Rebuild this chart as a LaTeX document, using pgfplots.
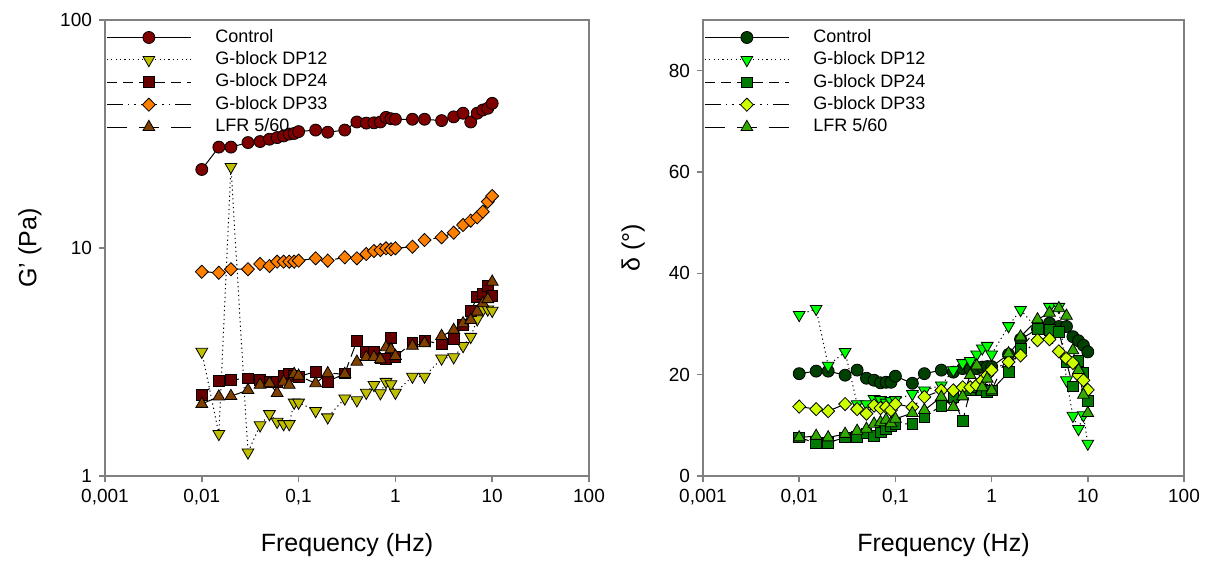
\documentclass[border=0pt]{standalone}
\usepackage{fontspec}
\setmainfont{Liberation Sans}
\usepackage{pgfplots}
\usepackage{pgfplotstable}
\pgfplotsset{compat=1.18}

\definecolor{lc}{HTML}{800000}
\definecolor{ld12}{HTML}{BFBF00}
\definecolor{ld24}{HTML}{660000}
\definecolor{ld33}{HTML}{FF8000}
\definecolor{llfr}{HTML}{804000}
\definecolor{rc}{HTML}{004000}
\definecolor{rd12}{HTML}{00FF00}
\definecolor{rd24}{HTML}{007A00}
\definecolor{rd33}{HTML}{CCFF00}
\definecolor{rlfr}{HTML}{33AA00}
\definecolor{axgray}{HTML}{808080}

% G' (Pa)
\pgfplotstableread{
f c d12 d24 d33 lfr
0.01 22.1 3.51 2.27 7.87 2.07
0.015 27.7 1.53 2.61 7.79 2.23
0.02 27.7 22.7 2.64 8.07 2.24
0.03 29.0 1.27 2.68 8.07 2.38
0.04 29.3 1.67 2.64 8.51 2.51
0.05 30.0 1.87 2.59 8.34 2.55
0.06 30.5 1.73 2.59 8.71 2.31
0.07 31.0 1.69 2.75 8.71 2.59
0.08 31.6 1.69 2.82 8.71 2.51
0.09 31.8 2.10 2.75 8.71 2.80
0.1 32.4 2.10 2.73 8.80 2.75
0.15 32.9 1.93 2.87 9.01 2.55
0.2 32.2 1.81 2.59 8.80 2.82
0.3 32.9 2.19 2.82 9.10 2.80
0.4 35.7 2.15 3.91 9.01 3.17
0.5 35.3 2.32 3.51 9.41 3.32
0.6 35.4 2.51 3.51 9.70 3.32
0.7 35.7 2.31 3.28 9.80 3.25
0.8 37.4 2.59 3.25 9.97 3.67
0.9 36.9 2.53 4.02 9.87 3.59
1 36.7 2.32 3.34 9.97 3.36
1.5 36.7 2.73 3.84 10.13 3.72
2 36.7 2.73 3.92 10.84 3.82
3 36.2 3.28 3.79 11.14 4.11
4 37.6 3.32 3.99 11.67 4.37
5 39.0 3.72 4.60 12.62 4.67
6 35.7 4.08 5.31 13.18 4.83
7 39.0 4.87 6.08 13.63 5.26
8 40.3 5.35 6.28 14.43 5.72
9 41.0 5.38 6.81 15.96 5.96
10 43.1 5.31 6.16 16.90 7.11
}\Gtab

% delta (deg)
\pgfplotstableread{
f c d12 d24 d33 lfr
0.01 20.2 31.8 7.6 13.7 7.6
0.015 20.7 33.0 6.5 13.2 7.9
0.02 20.7 21.8 6.6 12.8 7.6
0.03 19.9 24.5 7.6 14.2 8.3
0.04 20.9 14.2 7.7 13.2 8.9
0.05 19.3 14.2 8.4 12.3 9.3
0.06 18.9 15.2 7.9 13.9 10.3
0.07 18.4 15.0 8.6 13.4 10.6
0.08 18.5 14.5 9.3 13.6 11.1
0.09 18.5 14.8 9.9 13.0 10.4
0.1 19.7 15.0 10.3 14.2 11.3
0.15 18.3 16.2 10.3 13.6 12.4
0.2 20.2 16.9 11.6 15.6 13.0
0.3 20.9 17.9 13.9 16.9 15.6
0.4 20.5 20.9 15.5 16.9 13.6
0.5 21.2 22.3 10.8 17.5 15.7
0.6 21.0 22.7 16.9 17.5 19.9
0.7 21.2 24.0 17.5 17.9 21.8
0.8 21.5 25.2 17.0 18.9 17.5
0.9 21.6 25.7 16.5 19.9 19.2
1 21.6 24.0 16.9 20.9 16.9
1.5 24.0 29.6 20.5 22.5 24.2
2 27.0 32.8 25.2 23.8 27.5
3 29.0 29.0 29.1 26.8 30.9
4 30.2 33.4 28.9 27.0 32.2
5 29.5 33.4 28.5 24.6 33.1
6 29.5 18.9 22.5 23.2 31.6
7 27.5 11.9 17.7 22.3 24.8
8 26.7 9.3 22.7 19.9 20.9
9 25.8 12.0 20.3 18.9 16.0
10 24.5 6.4 14.9 17.0 12.4
}\Dtab

\pgfplotsset{
  legend image code/.code={\draw[mark repeat=2,mark phase=2,#1] plot coordinates {(0pt,0pt) (21pt,0pt) (42pt,0pt)};},
}

\begin{document}
\begin{tikzpicture}
\path[use as bounding box] (-52.5pt,-43pt) rectangle (551.5pt,238pt);

\begin{axis}[at={(0pt,0pt)}, anchor=south west, width=242pt,
    scale only axis, height=228pt,
    xmode=log, xmin=0.001, xmax=100,
    xtick={0.001,0.01,0.1,1,10,100},
    xticklabels={{0,001},{0,01},{0,1},1,10,100},
    axis line style={draw=axgray, line width=0.75pt},
    tick style={draw=axgray, line width=0.75pt},
    tick align=outside, major tick length=3pt, minor tick length=0pt,
    xtick pos=left, ytick pos=left,
    tick label style={font=\fontsize{9.5}{11}\selectfont},
    label style={font=\fontsize{12.5}{14}\selectfont},
    xlabel={Frequency (Hz)},
    xlabel style={at={(axis description cs:0.5,-0.151)}, anchor=center},
    legend style={at={(0.002,1)}, anchor=north west, draw=none, fill=none,
      font=\fontsize{9}{10}\selectfont, row sep=1.7pt, column sep=12pt,
      inner xsep=0pt, inner ysep=3.8pt,
      nodes={inner xsep=0pt, inner ysep=0.5pt, text height=6.6pt, text depth=1.9pt},
      cells={anchor=west}},
  ymode=log, ymin=1, ymax=100, ytick={1,10,100}, yticklabels={1,10,100},
  ylabel={G' (Pa)},
  ylabel style={at={(axis description cs:-0.155,0.5)}, anchor=center},
]
\addplot[solid, black, line width=0.5pt, mark=*, mark size=3pt, mark options={solid, draw=black, line width=0.4pt, fill=lc}] table[x=f,y=c] {\Gtab};
\addlegendentry{Control}
\addplot[black, line width=0.5pt, dash pattern=on 0.6pt off 1.6pt, mark=triangle*, mark size=3.4pt, mark options={solid, rotate=180, draw=black, line width=0.4pt, fill=ld12}] table[x=f,y=d12] {\Gtab};
\addlegendentry{G-block DP12}
\addplot[black, line width=0.5pt, dash pattern=on 5pt off 3pt, mark=square*, mark size=2.7pt, mark options={solid, draw=black, line width=0.4pt, fill=ld24}] table[x=f,y=d24] {\Gtab};
\addlegendentry{G-block DP24}
\addplot[black, line width=0.5pt, dash pattern=on 8pt off 2.5pt on 0.8pt off 2.5pt on 0.8pt off 2.5pt, mark=diamond*, mark size=3.3pt, mark options={solid, xscale=1.3, draw=black, line width=0.4pt, fill=ld33}] table[x=f,y=d33] {\Gtab};
\addlegendentry{G-block DP33}
\addplot[black, line width=0.5pt, dash pattern=on 10pt off 6pt, mark=triangle*, mark size=3.4pt, mark options={solid, draw=black, line width=0.4pt, fill=llfr}] table[x=f,y=lfr] {\Gtab};
\addlegendentry{LFR 5/60}
\end{axis}

\begin{axis}[at={(299pt,0pt)}, anchor=south west, width=240.5pt,
    scale only axis, height=228pt,
    xmode=log, xmin=0.001, xmax=100,
    xtick={0.001,0.01,0.1,1,10,100},
    xticklabels={{0,001},{0,01},{0,1},1,10,100},
    axis line style={draw=axgray, line width=0.75pt},
    tick style={draw=axgray, line width=0.75pt},
    tick align=outside, major tick length=3pt, minor tick length=0pt,
    xtick pos=left, ytick pos=left,
    tick label style={font=\fontsize{9.5}{11}\selectfont},
    label style={font=\fontsize{12.5}{14}\selectfont},
    xlabel={Frequency (Hz)},
    xlabel style={at={(axis description cs:0.5,-0.151)}, anchor=center},
    legend style={at={(0.002,1)}, anchor=north west, draw=none, fill=none,
      font=\fontsize{9}{10}\selectfont, row sep=1.7pt, column sep=12pt,
      inner xsep=0pt, inner ysep=3.8pt,
      nodes={inner xsep=0pt, inner ysep=0.5pt, text height=6.6pt, text depth=1.9pt},
      cells={anchor=west}},
  ymin=0, ymax=90, ytick={0,20,40,60,80}, yticklabels={0,20,40,60,80},
  ylabel={δ (°)},
  ylabel style={at={(axis description cs:-0.145,0.5)}, anchor=center},
]
\addplot[solid, black, line width=0.5pt, mark=*, mark size=3pt, mark options={solid, draw=black, line width=0.4pt, fill=rc}] table[x=f,y=c] {\Dtab};
\addlegendentry{Control}
\addplot[black, line width=0.5pt, dash pattern=on 0.6pt off 1.6pt, mark=triangle*, mark size=3.4pt, mark options={solid, rotate=180, draw=black, line width=0.4pt, fill=rd12}] table[x=f,y=d12] {\Dtab};
\addlegendentry{G-block DP12}
\addplot[black, line width=0.5pt, dash pattern=on 5pt off 3pt, mark=square*, mark size=2.7pt, mark options={solid, draw=black, line width=0.4pt, fill=rd24}] table[x=f,y=d24] {\Dtab};
\addlegendentry{G-block DP24}
\addplot[black, line width=0.5pt, dash pattern=on 8pt off 2.5pt on 0.8pt off 2.5pt on 0.8pt off 2.5pt, mark=diamond*, mark size=3.3pt, mark options={solid, xscale=1.3, draw=black, line width=0.4pt, fill=rd33}] table[x=f,y=d33] {\Dtab};
\addlegendentry{G-block DP33}
\addplot[black, line width=0.5pt, dash pattern=on 10pt off 6pt, mark=triangle*, mark size=3.4pt, mark options={solid, draw=black, line width=0.4pt, fill=rlfr}] table[x=f,y=lfr] {\Dtab};
\addlegendentry{LFR 5/60}
\end{axis}
\end{tikzpicture}
\end{document}
